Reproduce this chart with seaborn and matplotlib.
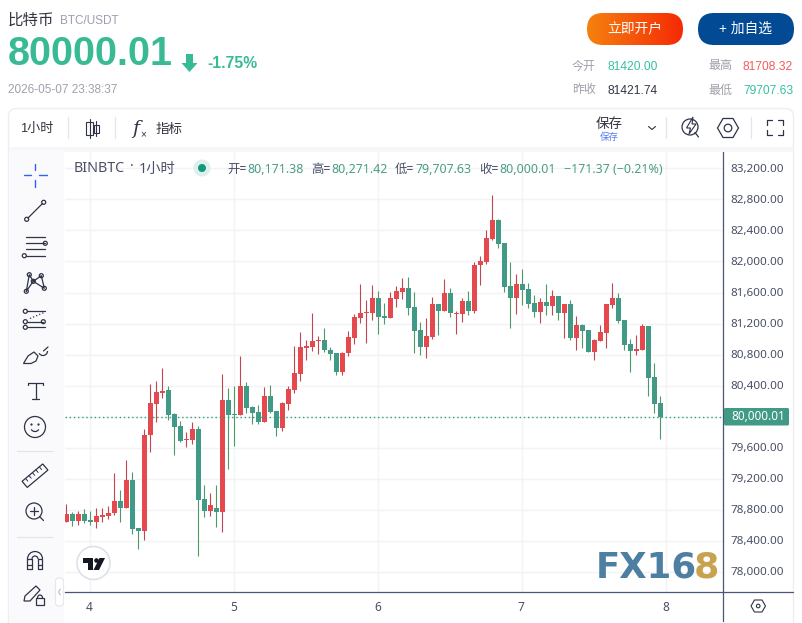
import numpy as np
import pandas as pd
import matplotlib
matplotlib.use("Agg")
import matplotlib.pyplot as plt
import seaborn as sns
from matplotlib.patches import FancyBboxPatch, Circle, Polygon, Rectangle, Arc
from matplotlib.transforms import ScaledTranslation

# hourly candles (index 0 = start of day 4)
opens = [78643,78746,78656,78746,78669,78643,78708,78721,78759,78914,78824,79184,78566,78527,79764,80163,80305,80344,80035,79880,
         79700,79700,79841,78940,78785,78824,78772,80215,80035,80021,80395,80124,80060,79931,80266,80073,79854,80163,80343,80549,
         80884,80897,80974,80987,80858,80820,80575,80820,81013,81271,81335,81335,81528,81296,81271,81515,81606,81658,81413,81117,
         80898,81026,81451,81361,81593,81323,81323,81490,81361,81954,81992,82289,82534,82237,81683,81529,81709,81645,81464,81348,
         81477,81425,81554,81335,81451,81013,81180,81116,80833,80974,81077,81438,81528,81245,80936,80846,80858,81168,80511,80171.38]
highs = [78875,78768,78785,78811,78785,78824,78824,78849,79275,79056,79442,79287,78566,79841,80421,80460,80627,80395,80047,79944,
         79803,79931,79880,79120,79017,79120,80550,80369,80395,80781,80446,80137,80150,80382,80408,80073,80189,80395,80910,81090,
         80987,81335,81039,81142,80897,80820,80833,81103,81322,81709,81503,81696,81618,81464,81606,81683,81786,81799,81606,81220,
         81271,81542,81451,81774,81658,81361,81529,81619,81992,82070,82405,82856,82546,82237,81992,81838,81902,81722,81567,81528,
         81709,81631,81554,81451,81503,81296,81193,81116,81000,81180,81451,81722,81593,81245,81000,81052,81193,81168,80691,80271.42]
lows = [78643,78592,78605,78630,78605,78566,78643,78682,78733,78643,78824,78489,78296,78411,79545,79931,80241,79957,79506,79674,
        79609,79648,78205,78708,78721,78579,78514,79326,79622,80021,80047,79905,79905,79931,80047,79751,79815,80086,80305,80459,
        80730,80846,80807,80833,80730,80536,80536,80781,80936,81206,80949,81245,81065,81193,81271,81412,81516,81310,80820,80794,
        80756,81001,81052,81361,81284,81065,81220,81310,81336,81696,81967,82276,82173,81606,81142,81323,81439,81400,81284,81206,
        81309,81309,81245,81013,80987,80858,80884,80833,80730,80974,80884,81399,81206,80858,80575,80794,80858,80266,80047,79707.63]
closes = [78746,78656,78746,78656,78643,78721,78733,78759,78914,78824,79184,78553,78527,79764,80176,80318,80331,80022,79867,79687,
          79713,79841,78927,78785,78862,78772,80215,80022,80022,80395,80111,80047,79931,80266,80060,79854,80176,80356,80562,80897,
          80910,80974,80987,80858,80807,80575,80820,81026,81284,81335,81348,81528,81284,81271,81528,81618,81658,81400,81104,80898,
          81039,81451,81361,81593,81336,81336,81490,81361,81954,82005,82302,82534,82224,81670,81529,81709,81632,81451,81348,81477,
          81425,81554,81335,81451,81013,81180,81103,80833,80987,81090,81451,81528,81232,80923,80846,80871,81168,80498,80163,80000.01]
hours = list(range(-4, 96))

price_ticks = [83200,82800,82400,82000,81600,81200,80800,80400,80000,79600,79200,78800,78400,78000]
day_ticks = [0, 24, 48, 72, 96]
day_labels = ["4", "5", "6", "7", "8"]
last_price = 80000.01

UP, DOWN = "#e5484d", "#419a85"
UP_WICK, DOWN_WICK = "#c2454f", "#4d9a68"
INK = "#4a4f66"

sns.set_theme(style="white")
plt.rcParams["font.family"] = ["Liberation Sans", "Noto Sans CJK SC", "DejaVu Sans"]
CHART_FONT = ["Noto Sans", "Noto Sans CJK SC", "DejaVu Sans"]

W, H = 803, 623
fig = plt.figure(figsize=(W / 100, H / 100), dpi=100, facecolor="white")

# Candles
ax = fig.add_axes([65 / W, (H - 592) / H, (723 - 65) / W, (592 - 151) / H])
df = pd.DataFrame({"hour": hours, "open": opens, "high": highs, "low": lows, "close": closes})
df["bottom"] = df[["open", "close"]].min(axis=1)
df["height"] = (df["open"] - df["close"]).abs()
df["up"] = df["close"] > df["open"]

ax.vlines(df["hour"], df["low"], df["high"], colors=[UP_WICK if u else DOWN_WICK for u in df["up"]],
          linewidth=0.8, zorder=2)
for is_up, color in [(True, UP), (False, DOWN)]:
    part = df[df["up"] == is_up]
    sns.barplot(x=part["hour"].values, y=part["height"].values, bottom=part["bottom"].values, native_scale=True,
                width=0.83, color=color, saturation=1, errorbar=None, edgecolor="none", linewidth=0, ax=ax, zorder=3)

ax.axhline(last_price, color="#2a9d80", linewidth=1.0, linestyle=(0, (1, 2)), zorder=4)
ax.set_xlim((65 - 90.33) / 6, (723 - 90.33) / 6)
ax.set_ylim(77742, 83423)
ax.set_xticks(day_ticks, day_labels)
ax.set_yticks(price_ticks, ["" if p == 80000 else f"{p:,.2f}" for p in price_ticks])
ax.yaxis.tick_right()
ax.tick_params(axis="y", length=0, pad=5.5, labelsize=8.4, labelcolor=INK)
ax.tick_params(axis="x", length=0, pad=6.5, labelsize=8.6, labelcolor=INK)
for lab in ax.get_yticklabels():
    lab.set_family(CHART_FONT)
    lab.set_transform(lab.get_transform() + ScaledTranslation(0, 0.8 / 100, fig.dpi_scale_trans))
for lab in ax.get_xticklabels():
    lab.set_family(CHART_FONT)
    lab.set_transform(lab.get_transform() + ScaledTranslation(-0.9 / 100, 0, fig.dpi_scale_trans))
ax.grid(True, color="#f2f3f5", linewidth=1.0)
ax.set_axisbelow(True)
ax.set_xlabel("")
ax.set_ylabel("")
for side in ["top", "left"]:
    ax.spines[side].set_visible(False)
for side in ["right", "bottom"]:
    ax.spines[side].set_color("#4a5578")
    ax.spines[side].set_linewidth(0.9)

# Page furniture, drawn on a pixel canvas over the chart
ui = fig.add_axes([0, 0, 1, 1], zorder=5)
ui.set_xlim(0, W)
ui.set_ylim(H, 0)
ui.axis("off")
ui.patch.set_alpha(0)


def txt(x, y, s, px, color=INK, ha="left", weight="normal", family=None, va="center", **kw):
    return ui.text(x, y, s, fontsize=px * 0.72, color=color, ha=ha, va=va, weight=weight,
                   family=family or plt.rcParams["font.family"], **kw)


def line(xs, ys, color="#2f3347", lw=0.9, **kw):
    ui.plot(xs, ys, color=color, linewidth=lw, solid_capstyle="round", **kw)


def ring(x, y, r, color="#2f3347", lw=0.9, fc="none"):
    ui.add_patch(Circle((x, y), r, fc=fc, ec=color, lw=lw))


def box(x0, y0, x1, y1, r, fc, ec="none", lw=0.9):
    p = FancyBboxPatch((x0 + r, y0 + r), x1 - x0 - 2 * r, y1 - y0 - 2 * r, boxstyle=f"round,pad={r}",
                       fc=fc, ec=ec, lw=lw)
    ui.add_patch(p)
    return p


# header
TEAL = "#38bb95"
txt(8, 20, "比特币", 15.5, "#33343f")
txt(60, 20.5, "BTC/USDT", 11.8, "#9b9db4")
txt(7.5, 54, "80000.01", 39.5, TEAL, weight="bold")
ui.add_patch(Polygon([(186, 54), (193, 54), (193, 63), (197.5, 63), (189.5, 72), (181.5, 63), (186, 63)], fc=TEAL, ec="none"))
txt(207.5, 64, "-1.75%", 15.8, TEAL, weight="bold")
txt(8, 90, "2026-05-07 23:38:37", 11.8, "#a0a0ac")

btn = box(587, 13, 683, 45, 16, "none")
grad = ui.imshow(np.linspace(0, 1, 64).reshape(1, -1), extent=(587, 683, 45, 13), aspect="auto", zorder=2,
                 cmap=matplotlib.colors.LinearSegmentedColormap.from_list("btn", ["#f5810f", "#f52a05"]))
grad.set_clip_path(btn)
ui.set_xlim(0, W)
ui.set_ylim(H, 0)
txt(635, 29, "立即开户", 13.8, "white", ha="center", zorder=3)
box(698, 13, 794, 45, 16, "#034a94")
txt(746, 29, "+ 加自选", 13.8, "white", ha="center", zorder=3)

txt(572, 66.5, "今开", 12, "#a0a0ac")
txt(608, 66.5, "81420.00", 12, "#36c0a2")
txt(708, 66.5, "最高", 12, "#a0a0ac")
txt(743, 66.5, "81708.32", 12, "#f25c5c")
txt(572, 90.5, "昨收", 12, "#a0a0ac")
txt(608, 90.5, "81421.74", 12, "#333645")
txt(708, 90.5, "最低", 12, "#a0a0ac")
txt(743, 90.5, "79707.63", 12, "#36c0a2")

# panel frame and toolbars
box(8.5, 108.5, 793.5, 640, 8, "none", ec="#eceef3", lw=1.0)
ui.add_patch(Rectangle((9, 147), 784, 4.5, fc="#f7f7fa", ec="none"))
ui.add_patch(Rectangle((9, 150), 55, 473, fc="#fafafc", ec="none"))
line([723.3, 723.3], [592, 621], "#4a5578", 0.9)
line([723, 793], [592, 592], "#4a5578", 0.9)
for sep_x in [68.5, 115.5, 666.5, 751.5]:
    line([sep_x, sep_x], [117, 138], "#e3e5ee", 0.9)

txt(20, 129, "1小时", 13, "#33343f")
# candle icon
line([90, 90], [119, 138], lw=0.8)
ui.add_patch(Rectangle((86.5, 122), 7, 13, fc="white", ec="#2f3347", lw=0.8))
line([96.5, 96.5], [121, 136], lw=0.8)
ui.add_patch(Rectangle((94.5, 125), 5, 8, fc="white", ec="#2f3347", lw=0.8))
txt(132, 129, "f", 19, "#2f3347", family=["DejaVu Serif"], style="italic")
txt(140, 134, "×", 10, "#2f3347")
txt(156, 129, "指标", 13.5, "#33343f")
txt(609, 124, "保存", 13.5, "#33343f", ha="center")
txt(609, 137, "保存", 9.5, "#5b7cf0", ha="center")
line([648.5, 652, 655.5], [126.5, 129.5, 126.5], lw=0.8)
# flash search
ring(690, 127, 8, lw=0.9)
ui.add_patch(Polygon([(693, 117), (686.5, 128), (690.5, 128), (689, 134), (696, 124), (692, 124)], fc="white", ec="#2f3347", lw=0.8))
line([695, 698.5], [132.5, 137], lw=0.9)
# settings hexagon
hex_big = [(717.5, 128), (723, 118.5), (733, 118.5), (738.5, 128), (733, 137.5), (723, 137.5)]
ui.add_patch(Polygon(hex_big, fc="none", ec="#2f3347", lw=0.9))
ring(728, 128, 3.8)
# fullscreen
for cx, sx in [(767, 1), (783, -1)]:
    for cy, sy in [(120, 1), (135, -1)]:
        line([cx + 5 * sx, cx, cx], [cy, cy, cy + 5 * sy], lw=0.9)

# left drawing tools
ICON = "#2f3347"
line([24, 31], [175, 175], "#2962ff", 1.0)
line([39, 47], [175, 175], "#2962ff", 1.0)
line([35, 35], [164, 170], "#2962ff", 1.0)
line([35, 35], [180, 187], "#2962ff", 1.0)
line([28, 42.5], [218, 203.5])
ring(26.7, 219.3, 2)
ring(43.7, 202.3, 2)
for fy in [237.3, 243.3, 249.3, 255.7]:
    line([26, 45], [fy, fy])
ring(45.3, 243.3, 2, fc="white")
ring(24.3, 255.7, 2, fc="white")
web = [(26.3, 291.3), (29.3, 274.7), (33.3, 281.3), (41.3, 275.7), (44.3, 288.3), (33.3, 281.3), (26.3, 291.3)]
line([p[0] for p in web], [p[1] for p in web])
for wx, wy in web[:5]:
    ring(wx, wy, 2, fc="white")
line([27, 45], [311.3, 311.3])
line([27, 43], [321.7, 321.7])
line([27, 45], [327.3, 327.3])
line([30, 44], [318.5, 312.5], ls=":")
ring(25.3, 311.3, 2, fc="white")
ring(25.3, 321.7, 2, fc="white")
ring(25.3, 327.3, 2, fc="white")
ring(43.3, 321.7, 2, fc="white")
ui.add_patch(Polygon([(23.5, 363.5), (28, 356), (34, 352), (38, 356), (36, 361), (31, 363.5)], fc="none", ec=ICON, lw=0.9))
ui.add_patch(Arc((43, 351), 9, 9, theta1=0, theta2=150, ec=ICON, lw=0.9))
line([48, 43.5], [347, 351])
line([28.3, 28.3, 43.3, 43.3], [385, 382.7, 382.7, 385])
line([35.7, 35.7], [382.7, 399.3])
line([32.3, 39], [399.3, 399.3])
ring(35, 427, 10.5)
ring(31.5, 424.5, 0.5)
ring(38.5, 424.5, 0.5)
ui.add_patch(Arc((35, 428), 8, 7, theta1=20, theta2=160, ec=ICON, lw=0.9))
line([17, 53], [451.3, 451.3], "#e3e5ee")
ruler = np.array([[-13.5, -4], [13.5, -4], [13.5, 4], [-13.5, 4]])
ang = np.deg2rad(-40)
rot = np.array([[np.cos(ang), -np.sin(ang)], [np.sin(ang), np.cos(ang)]])
ui.add_patch(Polygon(ruler @ rot.T + [35, 475.7], fc="none", ec=ICON, lw=0.9))
for tick in [-9, -4.5, 0, 4.5, 9]:
    seg = np.array([[tick, -4], [tick, -0.5]]) @ rot.T + [35, 475.7]
    line(seg[:, 0], seg[:, 1], lw=0.7)
ring(34, 511, 8)
line([30, 38], [511, 511])
line([34, 34], [507, 515])
line([39.5, 43.5], [516.5, 520.5])
line([17, 53], [536.7, 536.7], "#e3e5ee")
line([27.5, 27.5, 32, 32], [569, 559, 559, 569])
line([38, 38, 42.5, 42.5], [569, 559, 559, 569])
ui.add_patch(Arc((35, 559), 15, 15, theta1=180, theta2=360, ec=ICON, lw=0.9))
ui.add_patch(Arc((35, 559), 6, 6, theta1=180, theta2=360, ec=ICON, lw=0.9))
line([27.5, 32], [565, 565])
line([38, 42.5], [565, 565])
line([27.5, 32], [569, 569])
line([38, 42.5], [569, 569])
ui.add_patch(Polygon([(24, 601), (25, 596), (36, 586), (40, 590), (30, 601)], fc="none", ec=ICON, lw=0.9))
ui.add_patch(Rectangle((36, 598), 8, 6.5, fc="#fafafc", ec=ICON, lw=0.9))
ui.add_patch(Arc((40, 598), 5, 6, theta1=180, theta2=360, ec=ICON, lw=0.9))
box(55.5, 578, 63.5, 606, 3, "white", ec="#e6e8f0")
line([60.5, 58.5, 60.5], [589, 592, 595], "#b9bccb", 0.8)

# chart legend
txt(74, 169, "BINBTC", 14.3, INK, family=CHART_FONT)
txt(130, 166.5, "·", 14, INK, family=CHART_FONT, weight="bold")
txt(139, 169, "1小时", 14.3, INK, family=CHART_FONT)
ring(202, 168, 8.5, color="none", fc="#dff0ec", lw=0)
ring(202, 168, 4, color="none", fc="#0f9a80", lw=0)
VAL = "#4a9d85"
for lx, vx, lab, val in [(227, 247.5, "开=", "80,171.38"), (311, 331.5, "高=", "80,271.42"),
                         (395, 415.5, "低=", "79,707.63"), (479, 499.5, "收=", "80,000.01")]:
    txt(lx, 169.5, lab, 12.4, INK, family=CHART_FONT)
    txt(vx, 169.5, val, 12.4, VAL, family=CHART_FONT)
txt(564, 169.5, "−171.37 (−0.21%)", 12.4, VAL, family=CHART_FONT)

# last price tag
box(724, 408, 789, 425.5, 1.5, DOWN)
txt(731, 416.2, "80,000.01", 11.8, "white", family=CHART_FONT, zorder=3)

# bottom right settings icon
hex_small = [(751, 606), (754.5, 600), (762, 600), (765.5, 606), (762, 612), (754.5, 612)]
ui.add_patch(Polygon(hex_small, fc="none", ec="#2f3347", lw=0.8))
ring(758.2, 606, 1.8, lw=0.8)

# TradingView badge
ring(93.5, 563, 16.5, color="#dfe1ea", fc="white", lw=1.2)
ui.add_patch(Polygon([(83, 558), (93, 558), (93, 570), (88, 570), (88, 563), (83, 563)], fc="#131722", ec="none"))
ring(96.5, 560.5, 2.3, color="none", fc="#131722", lw=0)
ui.add_patch(Polygon([(99.5, 558), (105, 558), (99, 570), (93.5, 570)], fc="#131722", ec="none"))

# watermark
txt(596, 577.5, "FX16", 35.5, "#4d7fa3", weight="bold", family=["DejaVu Sans"], va="baseline", zorder=6)
txt(694, 577.5, "8", 36.5, "#c9a24f", weight="bold", family=["DejaVu Sans"], va="baseline", zorder=6)

fig.savefig("out.png", dpi=100)
